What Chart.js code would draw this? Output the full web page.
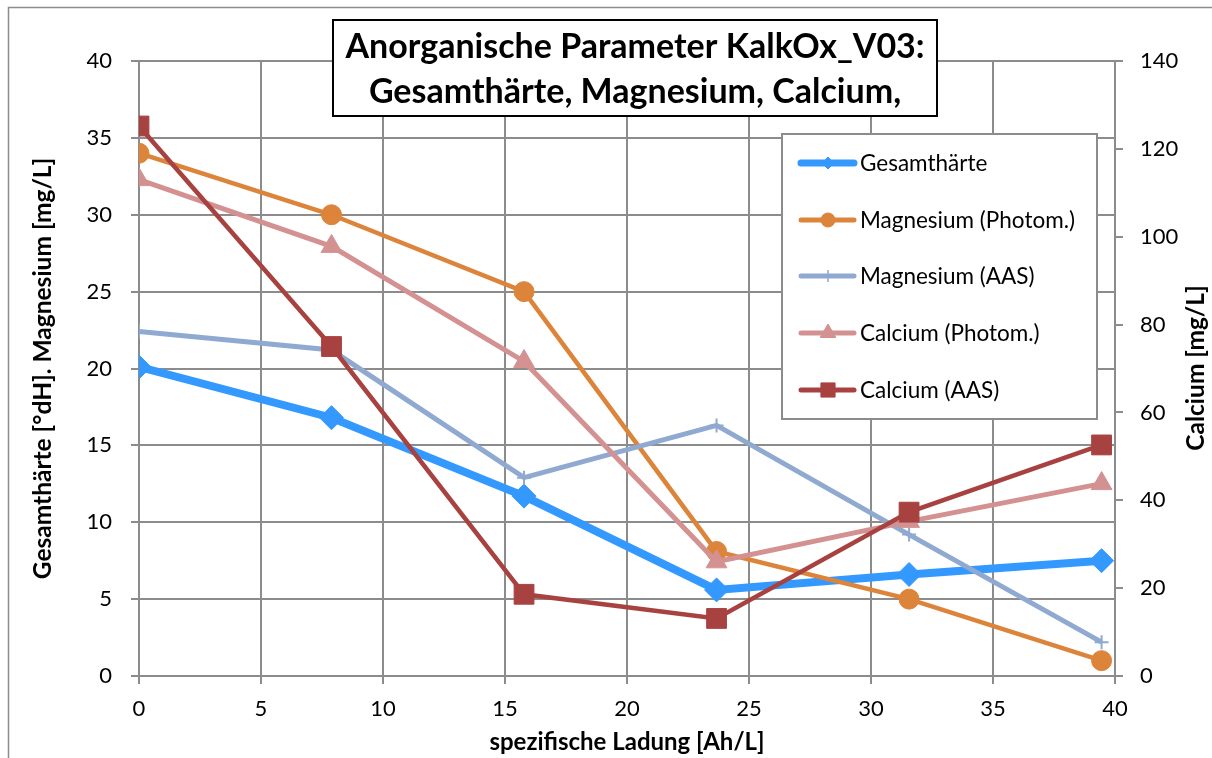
<!DOCTYPE html>
<html>
<head>
<meta charset="utf-8">
<title>Anorganische Parameter KalkOx_V03</title>
<script src="https://cdn.jsdelivr.net/npm/chart.js@4/dist/chart.umd.min.js"></script>
<style>
  html, body { margin: 0; padding: 0; background: #ffffff; }
  #wrap { width: 1212px; height: 758px; }
</style>
</head>
<body>
<div id="wrap"><canvas id="chart" width="1212" height="758"></canvas></div>
<script>
// Spezifische Ladung [Ah/L]
const ladung = [0, 7.89, 15.78, 23.67, 31.56, 39.45];

// left axis: °dH / mg/L
const gesamthaerte = [20.1, 16.8, 11.7, 5.6, 6.6, 7.5];
const magnesiumPhotom = [34, 30, 25, 8.1, 5.0, 1.0];
const magnesiumAAS = [22.4, 21.2, 12.9, 16.3, 9.2, 2.2];

// right axis: mg/L
const calciumPhotom = [113, 97.8, 71.6, 26.0, 35.2, 43.8];
const calciumAAS = [125.2, 75.0, 18.6, 13.1, 37.3, 52.6];

const seriesNames = ['Gesamthärte', 'Magnesium (Photom.)', 'Magnesium (AAS)', 'Calcium (Photom.)', 'Calcium (AAS)'];
const titleLines = ['Anorganische Parameter KalkOx_V03:', 'Gesamthärte, Magnesium, Calcium,'];
const xTitle = 'spezifische Ladung [Ah/L]';
const yLeftTitle = 'Gesamthärte [°dH]. Magnesium [mg/L]';
const yRightTitle = 'Calcium [mg/L]';

const FONT = 'Lato, "Open Sans", sans-serif';
const GRID = '#8c8c8c';

function pts(ys) { return ys.map((y, i) => ({ x: ladung[i], y: y })); }

const styles = [
  { color: '#3399ff', width: 8, point: 'rectRot', radius: 12, legendRadius: 6, legendWidth: 7 },
  { color: '#dd843b', width: 4.5, point: 'circle', radius: 10, legendRadius: 7, legendWidth: 5 },
  { color: '#8fa9d1', width: 5, point: 'cross', radius: 7, legendRadius: 6, legendWidth: 5 },
  { color: '#d49191', width: 5, point: 'triangle', radius: 12, legendRadius: 9, legendWidth: 5 },
  { color: '#a84240', width: 4.5, point: 'rect', radius: 14, legendRadius: 10, legendWidth: 5 }
];
const values = [gesamthaerte, magnesiumPhotom, magnesiumAAS, calciumPhotom, calciumAAS];
const axes = ['y', 'y', 'y', 'y1', 'y1'];

const datasets = values.map((v, i) => ({
  label: seriesNames[i],
  data: pts(v),
  yAxisID: axes[i],
  borderColor: styles[i].color,
  backgroundColor: styles[i].color,
  borderWidth: styles[i].width,
  pointStyle: styles[i].point,
  pointRadius: styles[i].radius,
  pointBorderWidth: styles[i].point === 'cross' ? 2 : 1,
  pointBorderColor: styles[i].color,
  pointBackgroundColor: styles[i].color,
  tension: 0,
  order: values.length - i
}));

// outer frame of the chart area
const framePlugin = {
  id: 'frame',
  beforeDraw(chart) {
    const ctx = chart.ctx;
    ctx.save();
    ctx.fillStyle = '#ffffff';
    ctx.fillRect(0, 0, chart.width, chart.height);
    ctx.strokeStyle = GRID;
    ctx.lineWidth = 1.5;
    ctx.beginPath();
    ctx.moveTo(8.5, chart.height + 2);
    ctx.lineTo(8.5, 7.5);
    ctx.lineTo(chart.width + 2, 7.5);
    ctx.stroke();
    ctx.restore();
  }
};

// title box, legend box and right axis title
const overlayPlugin = {
  id: 'overlays',
  afterDraw(chart) {
    const ctx = chart.ctx;
    ctx.save();

    // title box
    ctx.fillStyle = '#ffffff';
    ctx.fillRect(333, 20, 604, 96);
    ctx.strokeStyle = '#000000';
    ctx.lineWidth = 2;
    ctx.strokeRect(333, 20, 604, 96);
    ctx.fillStyle = '#000000';
    ctx.font = 'bold 34px ' + FONT;
    ctx.textAlign = 'center';
    ctx.textBaseline = 'middle';
    ctx.fillText(titleLines[0], 635, 47);
    ctx.fillText(titleLines[1], 635, 92);

    // legend box
    ctx.fillStyle = '#ffffff';
    ctx.fillRect(782, 134, 315, 285);
    ctx.strokeStyle = GRID;
    ctx.lineWidth = 2;
    ctx.strokeRect(782, 134, 315, 285);
    const rowY = [163, 220, 276, 333, 390];
    ctx.font = '22.5px ' + FONT;
    ctx.textAlign = 'left';
    ctx.textBaseline = 'middle';
    seriesNames.forEach((name, i) => {
      const s = styles[i];
      const y = rowY[i];
      ctx.strokeStyle = s.color;
      ctx.lineWidth = s.legendWidth;
      ctx.lineCap = 'round';
      ctx.beginPath();
      ctx.moveTo(801, y);
      ctx.lineTo(854, y);
      ctx.stroke();
      ctx.lineCap = 'butt';
      ctx.fillStyle = s.color;
      ctx.strokeStyle = s.color;
      ctx.lineWidth = s.point === 'cross' ? 1.5 : 1;
      Chart.helpers.drawPoint(ctx, { pointStyle: s.point, radius: s.legendRadius, rotation: 0, borderWidth: 1 }, 828, y);
      ctx.fillStyle = '#000000';
      ctx.fillText(name, 860, y + 1);
    });

    // right axis title, reading bottom to top
    ctx.translate(1196, 368);
    ctx.rotate(-Math.PI / 2);
    ctx.fillStyle = '#000000';
    ctx.font = 'bold 24.5px ' + FONT;
    ctx.textAlign = 'center';
    ctx.textBaseline = 'middle';
    ctx.fillText(yRightTitle, 0, 0);
    ctx.restore();
  }
};

new Chart(document.getElementById('chart'), {
  type: 'line',
  data: { datasets: datasets },
  options: {
    responsive: false,
    animation: false,
    events: [],
    layout: { padding: { top: 61, left: 0, right: 0, bottom: 0 } },
    plugins: {
      legend: { display: false },
      title: { display: false },
      tooltip: { enabled: false }
    },
    scales: {
      x: {
        type: 'linear',
        min: 0,
        max: 40,
        ticks: { stepSize: 5, color: '#000000', font: { family: FONT, size: 22 }, padding: 12, maxRotation: 0 },
        grid: { color: GRID, lineWidth: 2, tickLength: 8 },
        border: { color: GRID, width: 2 },
        title: { display: true, text: xTitle, color: '#000000', font: { family: FONT, size: 24, weight: 'bold' }, padding: { top: 0, bottom: 1 } },
        afterFit(s) { s.height = 82; }
      },
      y: {
        position: 'left',
        min: 0,
        max: 40,
        ticks: { stepSize: 5, color: '#000000', font: { family: FONT, size: 22 }, padding: 19 },
        grid: { color: GRID, lineWidth: 2, tickLength: 8 },
        border: { color: GRID, width: 2 },
        title: { display: true, text: yLeftTitle, color: '#000000', font: { family: FONT, size: 24.5, weight: 'bold' }, padding: { top: 28, bottom: 0 } },
        afterFit(s) { s.width = 139; }
      },
      y1: {
        position: 'right',
        min: 0,
        max: 140,
        ticks: { stepSize: 20, color: '#000000', font: { family: FONT, size: 22 }, padding: 17 },
        grid: { drawOnChartArea: false, color: GRID, lineWidth: 2, tickLength: 8 },
        border: { color: GRID, width: 2 },
        afterFit(s) { s.width = 97; }
      }
    }
  },
  plugins: [framePlugin, overlayPlugin]
});
</script>
</body>
</html>
